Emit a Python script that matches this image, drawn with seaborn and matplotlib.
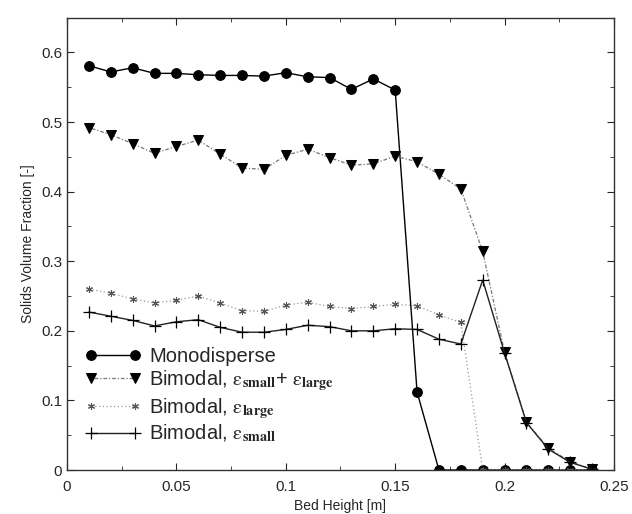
import numpy as np
import pandas as pd
import matplotlib
matplotlib.use("Agg")
import matplotlib.pyplot as plt
from matplotlib.ticker import MultipleLocator, FuncFormatter
import seaborn as sns

sns.set_style("ticks")
plt.rcParams["font.family"] = ["Liberation Sans", "DejaVu Sans"]
plt.rcParams["mathtext.fontset"] = "stix"

# ==============================
# DATA
# ==============================
bed_height = [0.01, 0.02, 0.03, 0.04, 0.05, 0.06, 0.07, 0.08, 0.09, 0.10, 0.11, 0.12,
              0.13, 0.14, 0.15, 0.16, 0.17, 0.18, 0.19, 0.20, 0.21, 0.22, 0.23, 0.24]

mono = [0.581, 0.572, 0.578, 0.570, 0.570, 0.568, 0.567, 0.567, 0.566, 0.571, 0.565, 0.564,
        0.547, 0.562, 0.546, 0.112, 0.0, 0.0, 0.0, 0.0, 0.0, 0.0, 0.0, 0.0]

bimodal_total = [0.492, 0.482, 0.469, 0.455, 0.465, 0.474, 0.454, 0.434, 0.432, 0.452, 0.461, 0.449,
                 0.438, 0.440, 0.451, 0.443, 0.425, 0.404, 0.314, 0.169, 0.069, 0.031, 0.012, 0.001]

bimodal_large = [0.260, 0.254, 0.246, 0.240, 0.244, 0.250, 0.240, 0.229, 0.228, 0.237, 0.241, 0.235,
                 0.232, 0.235, 0.238, 0.236, 0.223, 0.212, 0.0, 0.0, 0.0, 0.0, 0.0, 0.0]

bimodal_small = [0.227, 0.221, 0.215, 0.207, 0.213, 0.216, 0.205, 0.198, 0.198, 0.202, 0.208, 0.206,
                 0.200, 0.200, 0.203, 0.202, 0.188, 0.181, 0.273, 0.168, 0.068, 0.030, 0.011, 0.001]

labels = [
    "Monodisperse",
    r"Bimodal, $\mathrm{ε}_{\mathbf{small}}$+ $\mathrm{ε}_{\mathbf{large}}$",
    r"Bimodal, $\mathrm{ε}_{\mathbf{large}}$",
    r"Bimodal, $\mathrm{ε}_{\mathbf{small}}$",
]

df = pd.DataFrame({"h": bed_height, "mono": mono, "total": bimodal_total,
                   "large": bimodal_large, "small": bimodal_small})

# ==============================
# PLOT
# ==============================
fig = plt.figure(figsize=(6.32, 5.14), dpi=100)
ax = fig.add_axes([0.106, 0.0856, 0.8655, 0.880])

sns.lineplot(data=df, x="h", y="mono", ax=ax, color="black", linewidth=1.0,
             marker="o", markersize=7, markeredgecolor="black", label=labels[0])
sns.lineplot(data=df, x="h", y="total", ax=ax, color="#777777", linewidth=0.9,
             linestyle=(0, (1, 1.5, 3, 1.5)), marker="v", markersize=7,
             markerfacecolor="black", markeredgecolor="black", label=labels[1])
sns.lineplot(data=df, x="h", y="large", ax=ax, color="#999999", linewidth=0.9,
             linestyle=(0, (1, 2)), marker=(6, 2, 0), markersize=5,
             markeredgecolor="#555555", markeredgewidth=0.8, label=labels[2])
sns.lineplot(data=df, x="h", y="small", ax=ax, color="#222222", linewidth=1.0,
             marker="+", markersize=8, markeredgecolor="black",
             markeredgewidth=0.9, label=labels[3])

ax.set_xlim(0, 0.25)
ax.set_ylim(0, 0.65)
ax.xaxis.set_major_locator(MultipleLocator(0.05))
ax.xaxis.set_minor_locator(MultipleLocator(0.025))
ax.yaxis.set_major_locator(MultipleLocator(0.1))
ax.yaxis.set_minor_locator(MultipleLocator(0.05))
fmt = FuncFormatter(lambda v, p: f"{round(v, 3):g}")
ax.xaxis.set_major_formatter(fmt)
ax.yaxis.set_major_formatter(fmt)
ax.tick_params(which="both", direction="in", top=True, right=True, labelsize=11)
ax.tick_params(which="major", length=5)
ax.tick_params(axis="x", which="major", pad=7)
ax.tick_params(which="minor", length=3)
for s in ax.spines.values():
    s.set_linewidth(1.0)
    s.set_color("#333333")

ax.set_xlabel("Bed Height [m]", fontsize=10)
ax.set_ylabel("Solids Volume Fraction [-]", fontsize=10)

ax.legend(loc="lower left", bbox_to_anchor=(0.01, 0.03), frameon=False, fontsize=14.5,
          numpoints=2, handlelength=2.8, handletextpad=0.4, labelspacing=0.12,
          borderaxespad=0.2)

fig.savefig("out.png", dpi=100)
